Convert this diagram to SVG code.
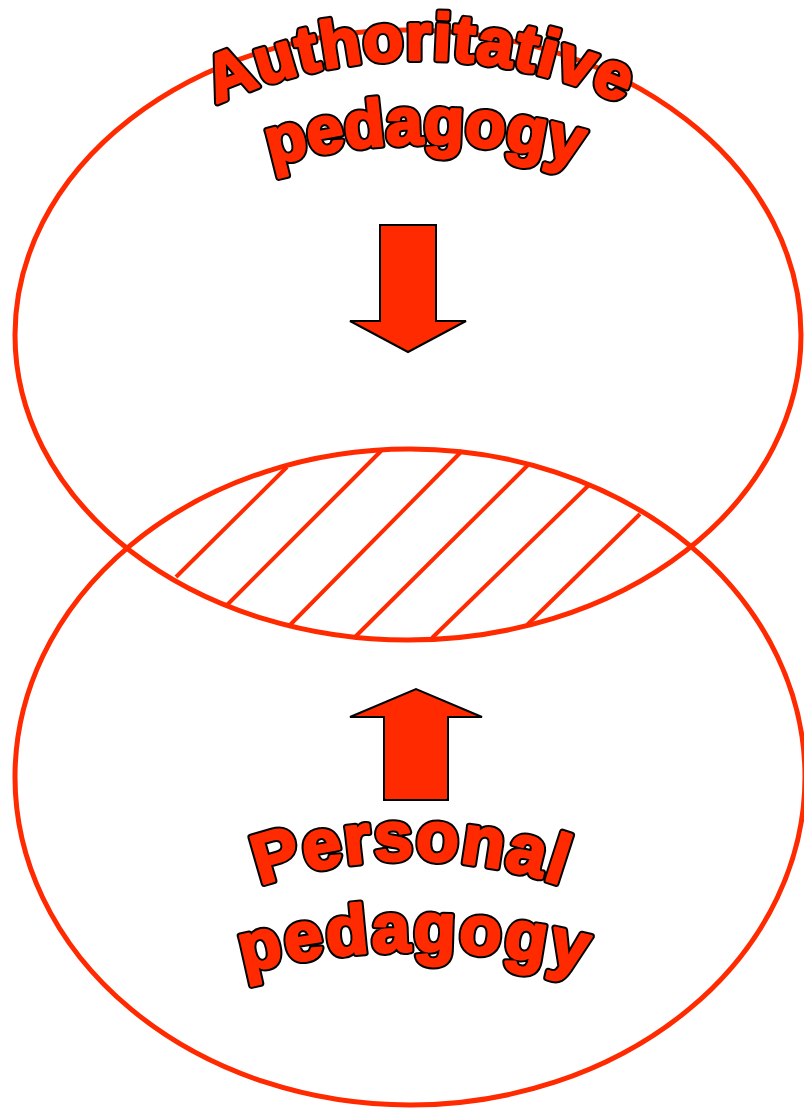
<svg xmlns="http://www.w3.org/2000/svg" width="804" height="1108" viewBox="0 0 804 1108">
  <style>
    .ring { fill: none; stroke: #FF2A00; stroke-width: 5; }
    .hatch { stroke: #FF2A00; stroke-width: 4; stroke-linecap: butt; }
    .arrow { fill: #FF2A00; stroke: #000; stroke-width: 2; stroke-linejoin: miter; }
    .lbl { font-family: "Liberation Sans", Arial, sans-serif; font-weight: bold; fill: #FF2A00; }
    .outline { stroke: #000; stroke-width: 7; stroke-linejoin: round; }
    .body { stroke: #FF2A00; stroke-width: 3; stroke-linejoin: round; }
  </style>
  <defs>
    <path id="pA" d="M190,117 A489,489 0 0 1 650,117"/>
    <path id="pB" d="M225,181 A557,557 0 0 1 625,181"/>
    <path id="pC" d="M201,910.5 A462,462 0 0 1 621,910.5"/>
    <path id="pD" d="M185,991 A683,683 0 0 1 645,991"/>
  </defs>
  <rect width="804" height="1108" fill="#fff"/>

  <g id="authoritative-circle">
    <ellipse class="ring" cx="408" cy="335" rx="393" ry="305"/>
  </g>
  <g id="personal-circle">
    <ellipse class="ring" cx="410" cy="777" rx="395" ry="328"/>
  </g>
  <g id="overlap">
    <line class="hatch" x1="176" y1="577" x2="287" y2="467"/>
    <line class="hatch" x1="226" y1="606" x2="381" y2="451"/>
    <line class="hatch" x1="288" y1="627" x2="462" y2="451"/>
    <line class="hatch" x1="354" y1="638" x2="528" y2="465"/>
    <line class="hatch" x1="432" y1="638" x2="590" y2="484"/>
    <line class="hatch" x1="527" y1="625" x2="640" y2="514"/>
  </g>

  <g id="connectors">
    <polygon class="arrow" points="380,225 436,225 436,321 466,321 408,352 350,321 380,321"/>
    <polygon class="arrow" points="384,800 448,800 448,717 482,717 416,689 350,717 384,717"/>
  </g>

  <g id="label-authoritative">
    <text class="lbl outline" font-size="66" letter-spacing="1"><textPath href="#pA" startOffset="50%" text-anchor="middle">Authoritative</textPath></text>
    <text class="lbl body" font-size="66" letter-spacing="1"><textPath href="#pA" startOffset="50%" text-anchor="middle">Authoritative</textPath></text>
    <text class="lbl outline" font-size="66"><textPath href="#pB" startOffset="50%" text-anchor="middle">pedagogy</textPath></text>
    <text class="lbl body" font-size="66"><textPath href="#pB" startOffset="50%" text-anchor="middle">pedagogy</textPath></text>
  </g>
  <g id="label-personal">
    <text class="lbl outline" font-size="70" letter-spacing="1.5"><textPath href="#pC" startOffset="50%" text-anchor="middle">Personal</textPath></text>
    <text class="lbl body" font-size="70" letter-spacing="1.5"><textPath href="#pC" startOffset="50%" text-anchor="middle">Personal</textPath></text>
    <text class="lbl outline" font-size="69" letter-spacing="2.5"><textPath href="#pD" startOffset="50%" text-anchor="middle">pedagogy</textPath></text>
    <text class="lbl body" font-size="69" letter-spacing="2.5"><textPath href="#pD" startOffset="50%" text-anchor="middle">pedagogy</textPath></text>
  </g>
</svg>
